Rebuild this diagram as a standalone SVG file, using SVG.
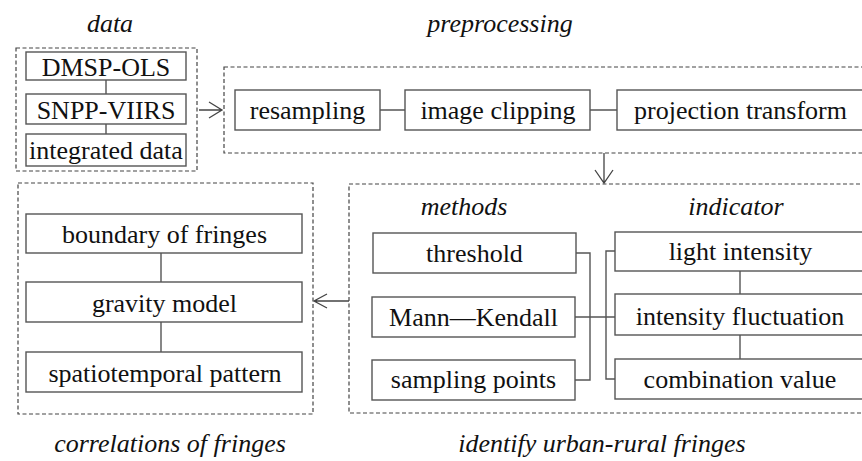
<svg xmlns="http://www.w3.org/2000/svg" width="862" height="461" viewBox="0 0 862 461" font-family="'Liberation Serif', 'Times New Roman', Tinos, 'DejaVu Serif', serif">
<defs>
<style>
text{font-family:'Liberation Serif','Times New Roman',Tinos,'DejaVu Serif',serif;font-size:26px;fill:#111;text-anchor:middle}
.it{font-style:italic}
.box{fill:#fff;stroke:#555;stroke-width:1.4}
.grp{fill:none;stroke:#444;stroke-width:1.2;stroke-dasharray:4 2.5}
.ln{fill:none;stroke:#555;stroke-width:1.4}
.ar{fill:none;stroke:#444;stroke-width:1.3}
</style>
</defs>
<rect width="862" height="461" fill="#fff"/>
<g id="group-data">
<rect class="grp" x="16" y="48" width="181" height="123"/>
<text class="it" x="110" y="32">data</text>
</g>
<g id="group-preprocessing">
<rect class="grp" x="224" y="67" width="650" height="86"/>
<text class="it" x="500" y="32">preprocessing</text>
</g>
<g id="group-identify">
<rect class="grp" x="349" y="184" width="525" height="229"/>
<text class="it" x="602" y="452">identify urban-rural fringes</text>
<text class="it" x="464" y="215">methods</text>
<text class="it" x="736" y="215">indicator</text>
</g>
<g id="group-correlations">
<rect class="grp" x="18" y="183" width="295" height="231"/>
<text class="it" x="170" y="452">correlations of fringes</text>
</g>
<g id="connectors">
<path class="ln" d="M106 80V94M106 124V134"/>
<path class="ln" d="M380 110H405M590 110H617"/>
<path class="ln" d="M161 253V282M161 322V352"/>
<path class="ln" d="M576 253H590V380H575M575 317H615M615 251H606V379H615"/>
<path class="ln" d="M740 271V294M740 335V359"/>
<path class="ar" d="M199 110H222M209 102L222 110L209 118"/>
<path class="ar" d="M604 153V183M595 170L604 183L613 170"/>
<path class="ar" d="M349 301H314M327 294L314 301L327 308"/>
</g>
<g id="n-dmsp"><rect class="box" x="26" y="52" width="160" height="28"/><text x="106" y="76">DMSP-OLS</text></g>
<g id="n-snpp"><rect class="box" x="26" y="94" width="160" height="30"/><text x="106" y="119">SNPP-VIIRS</text></g>
<g id="n-integrated"><rect class="box" x="26" y="134" width="160" height="32"/><text x="106" y="159">integrated data</text></g>
<g id="n-resampling"><rect class="box" x="235" y="90" width="145" height="40"/><text x="307.5" y="119">resampling</text></g>
<g id="n-clipping"><rect class="box" x="405" y="90" width="185" height="40"/><text x="498" y="119">image clipping</text></g>
<g id="n-projection"><rect class="box" x="617" y="90" width="248" height="40"/><text x="740.5" y="119">projection transform</text></g>
<g id="n-threshold"><rect class="box" x="373" y="233" width="203" height="40"/><text x="474.5" y="262">threshold</text></g>
<g id="n-mk"><rect class="box" x="372" y="297" width="203" height="40"/><text x="473.5" y="326">Mann—Kendall</text></g>
<g id="n-sampling"><rect class="box" x="372" y="360" width="203" height="40"/><text x="473.5" y="388">sampling points</text></g>
<g id="n-light"><rect class="box" x="615" y="232" width="250" height="39"/><text x="740.5" y="260">light intensity</text></g>
<g id="n-fluct"><rect class="box" x="615" y="294" width="250" height="41"/><text x="740" y="325">intensity fluctuation</text></g>
<g id="n-comb"><rect class="box" x="615" y="359" width="250" height="40"/><text x="740" y="388">combination value</text></g>
<g id="n-boundary"><rect class="box" x="26" y="214" width="276" height="39"/><text x="164.5" y="243">boundary of fringes</text></g>
<g id="n-gravity"><rect class="box" x="26" y="282" width="276" height="40"/><text x="164.5" y="312">gravity model</text></g>
<g id="n-spatio"><rect class="box" x="26" y="352" width="276" height="40"/><text x="165" y="382">spatiotemporal pattern</text></g>
</svg>
